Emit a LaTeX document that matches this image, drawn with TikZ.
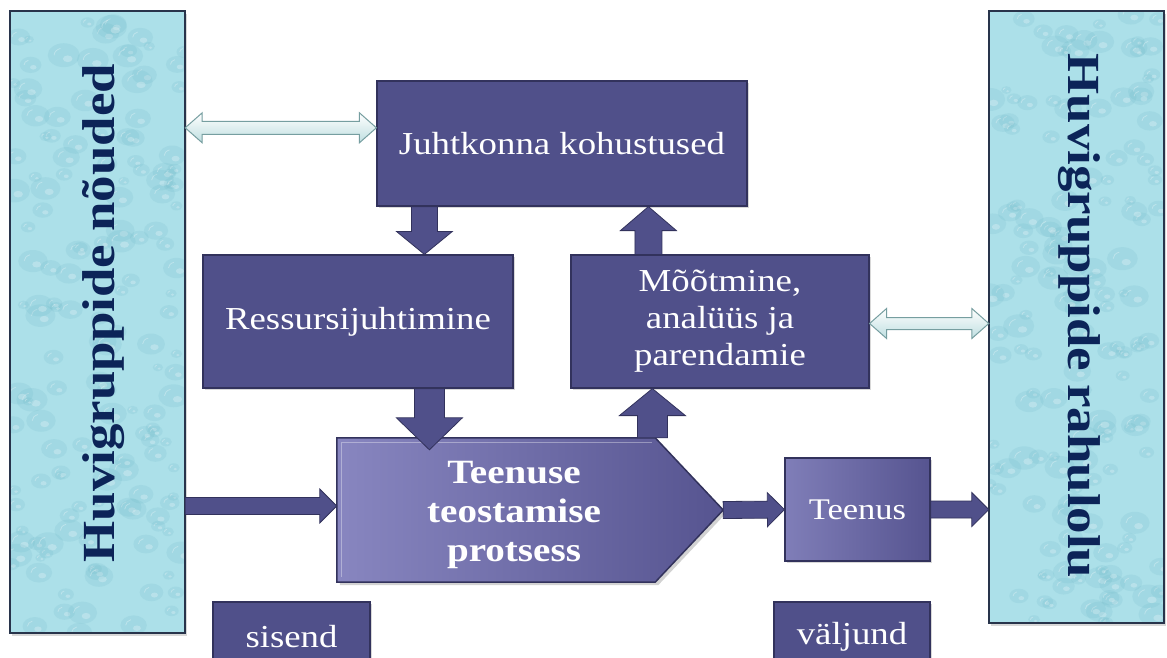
\documentclass[tikz,border=0pt]{standalone}
\usepackage{fontspec}
\setmainfont[FakeStretch=1.15]{Liberation Serif}
\usetikzlibrary{calc,shadows}

\definecolor{boxc}{RGB}{80,80,138}
\definecolor{boxb}{RGB}{50,50,92}
\definecolor{panelc}{RGB}{172,224,233}
\definecolor{dropc}{RGB}{105,180,196}
\definecolor{panelb}{RGB}{40,52,75}
\definecolor{paneltext}{RGB}{12,36,88}
\definecolor{penL}{RGB}{136,134,192}
\definecolor{penR}{RGB}{86,84,144}
\definecolor{dblfill}{RGB}{190,222,224}
\definecolor{dbledge}{RGB}{118,158,160}

\tikzset{
  box/.style={draw=boxb, line width=1.2pt, fill=boxc, text=white, inner sep=0pt, align=center,
    font=\fontsize{32}{37}\selectfont,
    drop shadow={shadow xshift=2pt, shadow yshift=-2pt, opacity=0.3}},
  panel/.style={fill=panelc, inner sep=0pt},
  panelborder/.style={draw=panelb, line width=2.5pt},
  blockarr/.style={fill=boxc, draw=boxb, line width=0.8pt, line join=miter},
  dblarr/.style={top color=white, bottom color=dblfill, draw=dbledge, line width=1pt},
  paneltxt/.style={text=paneltext, font=\fontsize{46}{50}\selectfont\bfseries, inner sep=0pt},
  proctxt/.style={text=white, align=center, font=\fontsize{34}{39}\selectfont\bfseries, inner sep=0pt},
}

% block arrow: start, end, half shaft, half head, head length
\newcommand\blockarrow[5]{%
  \coordinate (ba-H) at ($(#2)!#5!(#1)$);
  \draw[blockarr] ($(#1)!#3!90:(#2)$) -- ($(ba-H)!#3!-90:(#1)$) -- ($(ba-H)!#4!-90:(#1)$) -- (#2)
    -- ($(ba-H)!#4!90:(#1)$) -- ($(ba-H)!#3!90:(#1)$) -- ($(#1)!#3!-90:(#2)$) -- cycle;
}
% double-headed arrow
\newcommand\dblarrow[5]{%
  \coordinate (da-A) at ($(#1)!#5!(#2)$);
  \coordinate (da-B) at ($(#2)!#5!(#1)$);
  \draw[dblarr] (#1) -- ($(da-A)!#4!90:(#2)$) -- ($(da-A)!#3!90:(#2)$) -- ($(da-B)!#3!-90:(#1)$)
    -- ($(da-B)!#4!-90:(#1)$) -- (#2) -- ($(da-B)!#4!90:(#1)$) -- ($(da-B)!#3!90:(#1)$)
    -- ($(da-A)!#3!-90:(#2)$) -- ($(da-A)!#4!-90:(#2)$) -- cycle;
}
% droplet texture inside a panel node
\newcommand\droplets[3]{% node, width, height
  \begin{scope}
    \clip (#1.north west) rectangle (#1.south east);
    \foreach \k in {1,...,150}{
      \pgfmathsetmacro\dx{rnd*#2}
      \pgfmathsetmacro\dy{rnd*#3}
      \pgfmathsetmacro\dr{5+rnd*11}
      \pgfmathsetmacro\dq{0.75*\dr}
      \pgfmathsetmacro\dh{0.3*\dr}
      \coordinate (dc) at ($(#1.north west)+(\dx,\dy)$);
      \fill[dropc, opacity=0.16] (dc) ellipse [x radius=\dr pt, y radius=\dq pt];
      \draw[white, opacity=0.3, line width=0.8pt] ($(dc)+(-0.6*\dr,0)$) arc [start angle=180, end angle=110, x radius=0.6*\dr pt, y radius=0.6*\dq pt];
      \fill[white, opacity=0.25] ($(dc)+(0.25*\dr,0.3*\dq)$) ellipse [x radius=\dh pt, y radius=0.7*\dh pt];
    }
  \end{scope}
}

\begin{document}
\begin{tikzpicture}[x=1pt,y=-1pt]
\useasboundingbox (0,0) rectangle (1167,658);
\fill[white] (0,0) rectangle (1167,658);
\pgfmathsetseed{17}

% side panels
\node[panel, minimum width=175pt, minimum height=622pt,
  drop shadow={shadow xshift=2pt, shadow yshift=-3pt, opacity=0.3}] (lp) at (97.5,322) {};
\droplets{lp}{175}{622}
\draw[panelborder] (lp.north west) rectangle (lp.south east);
\node[paneltxt, rotate=90] (lpt) at (104,313) {Huvigruppide nõuded};

\node[panel, minimum width=175pt, minimum height=612pt,
  drop shadow={shadow xshift=2pt, shadow yshift=-3pt, opacity=0.3}] (rp) at (1076.5,317) {};
\droplets{rp}{175}{612}
\draw[panelborder] (rp.north west) rectangle (rp.south east);
\node[paneltxt, rotate=-90] (rpt) at (1079,316) {Huvigruppide rahulolu};

% boxes
\node[box, minimum width=370pt, minimum height=125pt] (juht) at (562,143.5) {Juhtkonna kohustused};
\node[box, minimum width=310pt, minimum height=133pt] (ress) at (358,321.5) {Ressursijuhtimine};
\node[box, minimum width=298pt, minimum height=133pt] (moot) at (720,321.5) {Mõõtmine,\\analüüs ja\\parendamie};
\node[box, minimum width=145pt, minimum height=103pt, left color=penL!85!boxc, right color=penR,
  font=\fontsize{30}{34}\selectfont] (teenus) at (857.5,509.5) {Teenus};
\node[box, minimum width=157pt, minimum height=70pt] (sisend) at (291.5,637) {sisend};
\node[box, minimum width=156pt, minimum height=70pt] (valjund) at (852,637) {väljund};

% process pentagon
\node[inner sep=0pt, minimum width=386pt, minimum height=144pt] (proc) at (530,510) {};
\draw[left color=penL, right color=penR, draw=boxb, line width=1.5pt, line join=miter,
  drop shadow={shadow xshift=3pt, shadow yshift=-3pt, opacity=0.35}]
  (proc.north west) -- ($(proc.north east)+(-68,0)$) -- (proc.east)
  -- ($(proc.south east)+(-68,0)$) -- (proc.south west) -- cycle;
\draw[white, opacity=0.35, line width=1.2pt]
  ($(proc.south west)+(5,-5)$) -- ($(proc.north west)+(5,5)$) -- ($(proc.north east)+(-71,5)$);
\node[proctxt] (ptxt) at (514,515) {Teenuse\\teostamise\\protsess};

% double arrows
\coordinate (d1s) at ($(lp.north east)+(0,117)$);
\coordinate (d1e) at (d1s -| juht.west);
\dblarrow{d1s}{d1e}{6.5pt}{15pt}{17pt}
\coordinate (d2s) at ($(moot.east)+(0,2)$);
\coordinate (d2e) at (d2s -| rp.west);
\dblarrow{d2s}{d2e}{6pt}{15pt}{17pt}

% block arrows
\coordinate (a1s) at ($(juht.south west)+(48,0)$);
\coordinate (a1e) at (a1s |- ress.north);
\blockarrow{a1s}{a1e}{13pt}{28pt}{23pt}

\coordinate (a2s) at ($(ress.south west)+(227,0)$);
\coordinate (a2e) at ($(a2s |- proc.north)+(0,12)$);
\blockarrow{a2s}{a2e}{15pt}{33pt}{32pt}

\coordinate (a3e) at ($(moot.south west)+(82,0)$);
\coordinate (a3s) at (a3e |- proc.north);
\blockarrow{a3s}{a3e}{15pt}{33pt}{27pt}

\coordinate (a4s) at ($(moot.north west)+(78,0)$);
\coordinate (a4e) at (a4s |- juht.south);
\blockarrow{a4s}{a4e}{13.5pt}{28pt}{24pt}

\coordinate (a5s) at ($(lp.east |- proc.west)+(0,-4)$);
\coordinate (a5e) at ($(proc.west)+(0,-4)$);
\blockarrow{a5s}{a5e}{8.5pt}{17pt}{17pt}

\blockarrow{proc.east}{teenus.west}{8.5pt}{17pt}{17pt}

\coordinate (a7e) at (teenus.east -| rp.west);
\blockarrow{teenus.east}{a7e}{8.5pt}{17pt}{17pt}
\end{tikzpicture}
\end{document}
